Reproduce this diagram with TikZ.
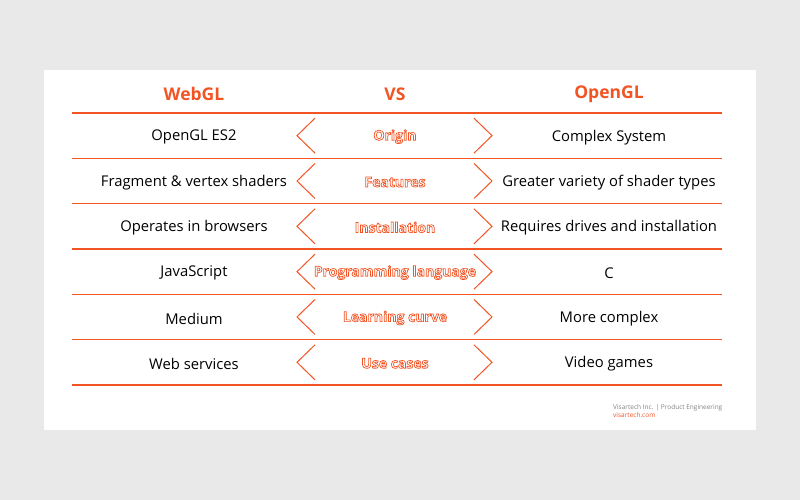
\documentclass[tikz,border=0pt]{standalone}
\usepackage{fontspec}
\setmainfont{Open Sans}
\definecolor{vsorange}{RGB}{242,84,36}
\definecolor{bggray}{RGB}{233,233,233}
\definecolor{footgray}{RGB}{130,130,130}
\newcommand{\outlined}[1]{\special{pdf:literal direct 1 Tr 0.7 w}#1\special{pdf:literal direct 0 Tr}}
\tikzset{
  head/.style={text=vsorange,font=\fontsize{17.5}{20}\selectfont\bfseries},
  cell/.style={font=\fontsize{14.8}{17}\selectfont},
  topic/.style={text=vsorange,font=\fontsize{14}{16}\selectfont\bfseries},
  rule/.style={draw=vsorange,line width=1.2pt},
  chev/.style={draw=vsorange,line width=1pt}
}

\begin{document}
\begin{tikzpicture}[x=1pt,y=-1pt]
    \fill[bggray] (0,0) rectangle (800,500);
    \fill[white] (44,70) rectangle (756,430);
    \node[head] (webgl) at (194,94) {WebGL};
    \node[head] (vs) at (395,94) {VS};
    \node[head] (opengl) at (609,94) {OpenGL};
    \draw[rule] (72,113) -- (722,113);
    \foreach \lft/\mid/\rgt [count=\i] in {OpenGL ES2/Origin/Complex System,
        Fragment \& vertex shaders/Features/Greater variety of shader types,
        Operates in browsers/Installation/Requires drives and installation,
        JavaScript/Programming language/C,
        Medium/Learning curve/More complex,
        Web services/Use cases/Video games} {
        \pgfmathsetmacro{\yc}{113+45.33*\i-22.67}
        \node[cell] (l\i) at (194,\yc+1.5) {\lft};
        \node[topic] (m\i) at (395,\yc+1) {\outlined{\mid}};
        \node[cell] (r\i) at (609,\yc+1.5) {\rgt};
        \draw[chev] (315,\yc-17.5) -- (297,\yc) -- (315,\yc+17.5);
        \draw[chev] (474,\yc-17.5) -- (492,\yc) -- (474,\yc+17.5);
        \draw[rule] (72,\yc+22.67) -- (722,\yc+22.67);
      }
    \node[anchor=west,text=footgray,font=\fontsize{6.5}{8}\selectfont,inner sep=0pt] (firm) at (613,407.5) {Visartech Inc. | Product Engineering};
    \node[anchor=west,text=vsorange,font=\fontsize{6.5}{8}\selectfont,inner sep=0pt] (site) at (613,415.5) {visartech.com};
  \end{tikzpicture}
\end{document}
